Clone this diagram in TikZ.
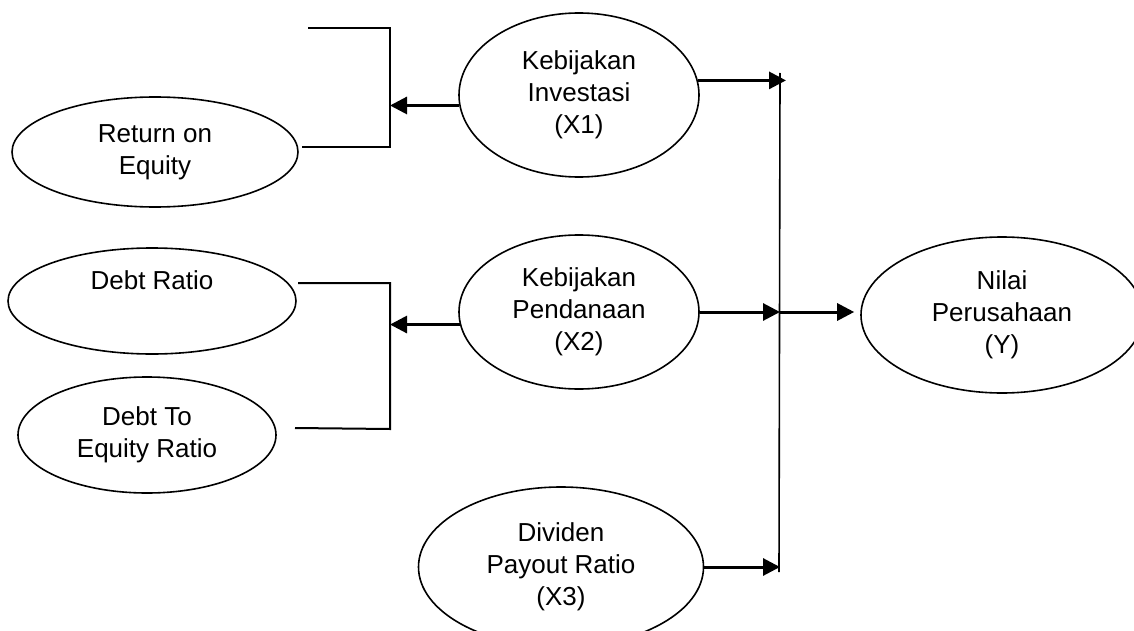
\documentclass[tikz,border=0pt]{standalone}
\usepackage{fontspec}
\setmainfont{Liberation Sans}
\usetikzlibrary{arrows.meta}
\usetikzlibrary{shapes.geometric}

\begin{document}
\begin{tikzpicture}
	[x=0.5pt, y=-0.5pt,
	var ellipse/.style={draw, ellipse, line width=0.8pt, inner sep=0pt, align=center,
		font=\fontsize{13}{16}\selectfont},
	my arrow/.style={line width=1.5pt, -{Triangle[length=8.5pt, width=8.5pt]}},
	bracket line/.style={line width=1pt},
	trunk line/.style={line width=0.8pt}]

	\clip (0,0) rectangle (1134,631);

	% indikator di kiri
	\node[var ellipse, minimum width=143pt, minimum height=55pt] (roe) at (155,152) {Return on\\Equity};
	\node[var ellipse, minimum width=144pt, minimum height=53pt] (dr) at (152,301) {Debt Ratio\\\strut};
	\node[var ellipse, minimum width=129pt, minimum height=58pt] (der) at (147,435) {Debt To\\Equity Ratio};

	% variabel bebas dan terikat
	\node[var ellipse, minimum width=120pt, minimum height=82pt] (x1) at (579,95) {Kebijakan\\Investasi\\(X1)};
	\node[var ellipse, minimum width=120pt, minimum height=77pt] (x2) at (579,312) {Kebijakan\\Pendanaan\\(X2)};
	\node[var ellipse, minimum width=142.5pt, minimum height=80pt] (x3) at (561,567) {Dividen\\Payout Ratio\\(X3)};
	\node[var ellipse, minimum width=141pt, minimum height=78pt] (y) at (1002,315) {Nilai\\Perusahaan\\(Y)};

	\coordinate (b1a) at (308,28);
	\coordinate (b1top) at (390,28);
	\coordinate (b1bot) at (390,147);
	\coordinate (b1b) at (302,147);
	\coordinate (b2a) at (298,283);
	\coordinate (b2top) at (390,283);
	\coordinate (b2bot) at (390,429);
	\coordinate (b2b) at (295,428);
	\coordinate (trunktop) at (780,73);
	\coordinate (trunkbot) at (779,572);

	\draw[bracket line] (b1a) -- (b1top) -- (b1bot) -- (b1b);
	\draw[bracket line] (b2a) -- (b2top) -- (b2bot) -- (b2b);
	\draw[trunk line] (trunktop) -- (trunkbot);

	\draw[my arrow] (x1.185) -- (x1.185 -| b1top);
	\draw[my arrow] (x2.186) -- (x2.186 -| b2top);
	\draw[my arrow, shorten >=-3pt] (x1.7) -- (x1.7 -| trunktop);
	\draw[my arrow] (x2.east) -- (x2.east -| trunktop);
	\draw[my arrow] (x3.east) -- (x3.east -| trunktop);
	\draw[my arrow, shorten >=3pt] (x2.east -| trunktop) -- (y.west |- x2.east);

\end{tikzpicture}
\end{document}
